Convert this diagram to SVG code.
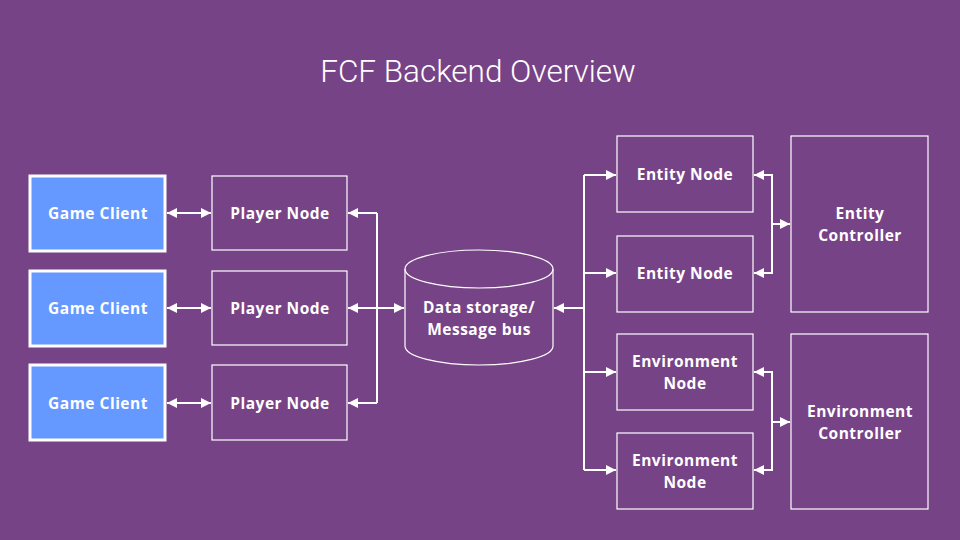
<svg xmlns="http://www.w3.org/2000/svg" width="960" height="540" viewBox="0 0 960 540">
<defs>
<marker id="ah" viewBox="0 0 10 10" refX="10" refY="5" markerWidth="11" markerHeight="10" markerUnits="userSpaceOnUse" orient="auto-start-reverse">
<path d="M0,0 L10,5 L0,10 Z" fill="#ffffff"/>
</marker>
<style>
.client rect{fill:#6699ff;stroke:#ffffff;stroke-width:3}
.node rect{fill:none;stroke:#ffffff;stroke-width:1.2}
.lbl{font-family:"Open Sans","Liberation Sans",sans-serif;font-weight:700;font-size:15.5px;letter-spacing:0.5px;fill:#ffffff;text-anchor:middle}
.c path,.c line,.c polyline{fill:none;stroke:#ffffff;stroke-width:2}
</style>
</defs>
<rect width="960" height="540" fill="#774387"/>
<text x="478" y="82" font-family="Roboto,'Liberation Sans',sans-serif" font-weight="300" font-size="31.5" fill="#ffffff" text-anchor="middle">FCF Backend Overview</text>

<g id="client1" class="client"><rect x="30" y="176" width="135" height="75"/><text class="lbl" x="98" y="219">Game Client</text></g>
<g id="client2" class="client"><rect x="30" y="271" width="135" height="75"/><text class="lbl" x="98" y="314">Game Client</text></g>
<g id="client3" class="client"><rect x="30" y="365" width="135" height="75"/><text class="lbl" x="98" y="409">Game Client</text></g>

<g id="player1" class="node"><rect x="212" y="176" width="135" height="74"/><text class="lbl" x="280" y="219">Player Node</text></g>
<g id="player2" class="node"><rect x="212" y="271" width="135" height="74"/><text class="lbl" x="280" y="314">Player Node</text></g>
<g id="player3" class="node"><rect x="212" y="365" width="135" height="75"/><text class="lbl" x="280" y="409">Player Node</text></g>

<g id="bus" class="node">
<path d="M405,269 A74,19 0 0 1 553,269 L553,346 A74,19 0 0 1 405,346 Z" fill="#774387" stroke="#ffffff" stroke-width="1.2"/>
<path d="M405,269 A74,19 0 0 0 553,269" fill="none" stroke="#ffffff" stroke-width="1.2"/>
<text class="lbl" x="479" y="313">Data storage/<tspan x="479" dy="21.5">Message bus</tspan></text>
</g>

<g id="entity1" class="node"><rect x="617" y="136" width="136" height="76"/><text class="lbl" x="685" y="180">Entity Node</text></g>
<g id="entity2" class="node"><rect x="617" y="236" width="136" height="76"/><text class="lbl" x="685" y="279">Entity Node</text></g>
<g id="entityController" class="node"><rect x="791" y="136" width="137" height="176"/><text class="lbl" x="860" y="219">Entity<tspan x="860" dy="21.5">Controller</tspan></text></g>

<g id="env1" class="node"><rect x="617" y="334" width="136" height="76"/><text class="lbl" x="685" y="367">Environment<tspan x="685" dy="21.5">Node</tspan></text></g>
<g id="env2" class="node"><rect x="617" y="433" width="136" height="76"/><text class="lbl" x="685" y="466">Environment<tspan x="685" dy="21.5">Node</tspan></text></g>
<g id="envController" class="node"><rect x="791" y="334" width="137" height="175"/><text class="lbl" x="860" y="417">Environment<tspan x="860" dy="21.5">Controller</tspan></text></g>

<g id="connectors" class="c">
<line x1="167" y1="213" x2="211" y2="213" marker-start="url(#ah)" marker-end="url(#ah)"/>
<line x1="167" y1="308" x2="211" y2="308" marker-start="url(#ah)" marker-end="url(#ah)"/>
<line x1="167" y1="403" x2="211" y2="403" marker-start="url(#ah)" marker-end="url(#ah)"/>
<polyline points="377,213 377,403"/>
<line x1="377" y1="213" x2="348" y2="213" marker-end="url(#ah)"/>
<line x1="377" y1="403" x2="348" y2="403" marker-end="url(#ah)"/>
<line x1="348" y1="308" x2="404" y2="308" marker-start="url(#ah)" marker-end="url(#ah)"/>
<line x1="584" y1="308" x2="554" y2="308" stroke-width="3" marker-end="url(#ah)"/>
<polyline points="584,175 584,470"/>
<line x1="584" y1="175" x2="616" y2="175" marker-end="url(#ah)"/>
<line x1="584" y1="273" x2="616" y2="273" marker-end="url(#ah)"/>
<line x1="584" y1="372" x2="616" y2="372" marker-end="url(#ah)"/>
<line x1="584" y1="470" x2="616" y2="470" marker-end="url(#ah)"/>
<polyline points="754,175 772,175 772,273 754,273" marker-start="url(#ah)" marker-end="url(#ah)"/>
<line x1="772" y1="224" x2="790" y2="224" marker-end="url(#ah)"/>
<polyline points="754,372 772,372 772,470 754,470" marker-start="url(#ah)" marker-end="url(#ah)"/>
<line x1="772" y1="422" x2="790" y2="422" marker-end="url(#ah)"/>
</g>
</svg>
